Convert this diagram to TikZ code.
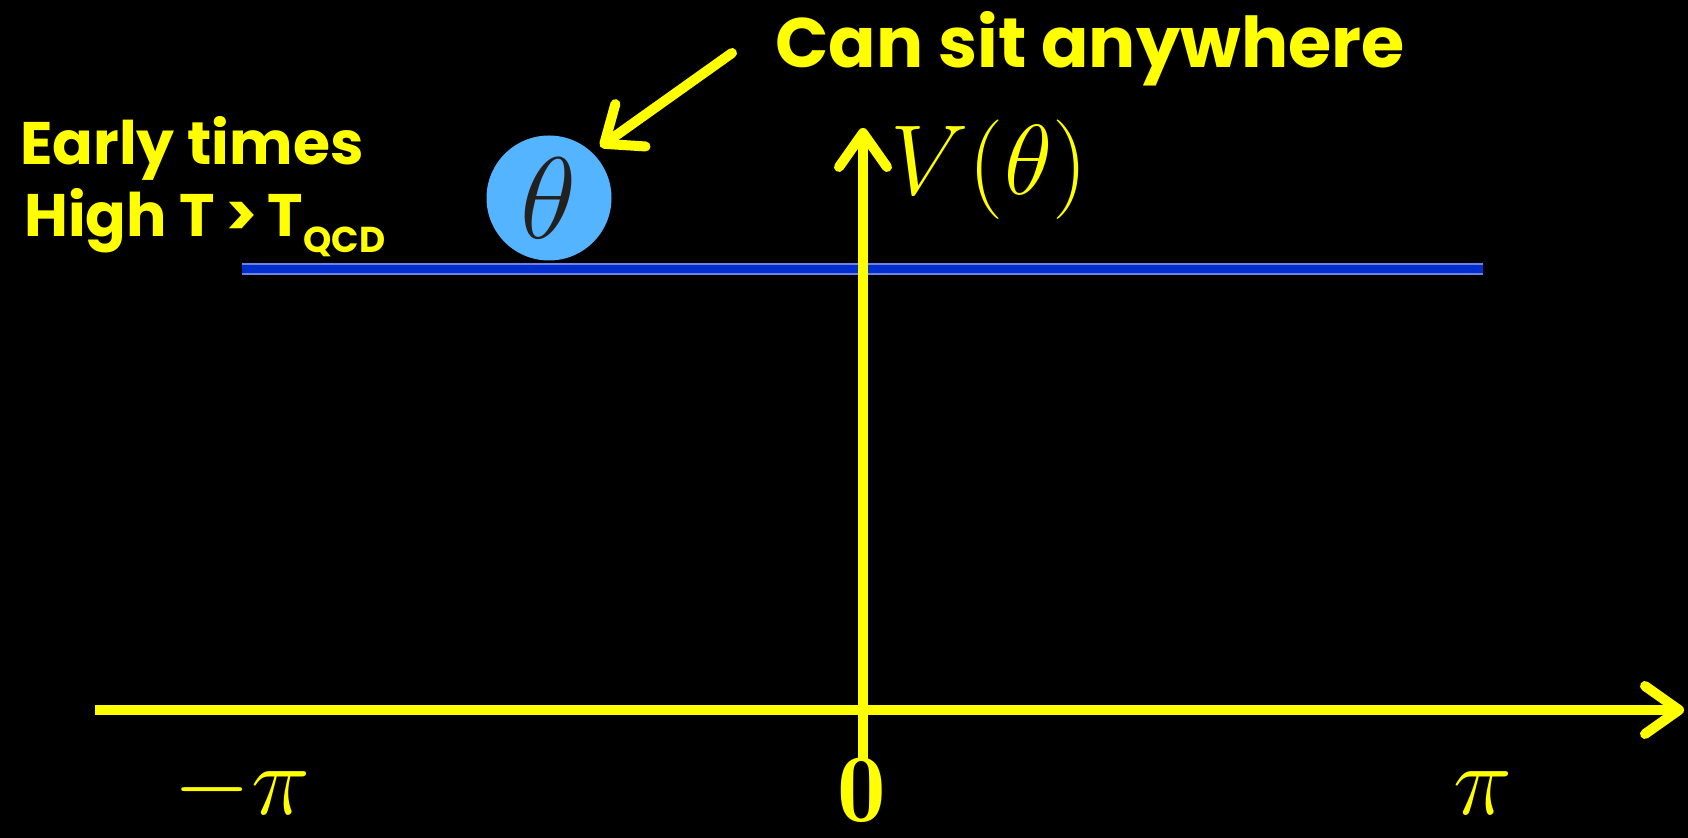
\documentclass[tikz,border=0pt]{standalone}
\usepackage{graphicx}
\usepackage{fontspec}
\newfontfamily\lblfont{Poppins}
\usetikzlibrary{arrows.meta}
\definecolor{yel}{RGB}{255,255,0}
\definecolor{ballblue}{RGB}{85,180,255}
\definecolor{lineblue}{RGB}{0,45,205}
\definecolor{lineedge}{RGB}{110,130,225}
\definecolor{thetagray}{RGB}{35,32,32}
\newcommand{\bigmath}[2]{\scalebox{#1}{\Huge$#2$}}
\tikzset{
  axis/.style={draw=yel, line width=5pt, -{Straight Barb[length=17pt,width=24pt,round]}},
  pointer/.style={draw=yel, line width=5pt, line cap=round, -{Straight Barb[length=16pt,width=26pt,round]}},
  lbl/.style={text=yel, font=\lblfont\bfseries, inner sep=0pt},
  mathlbl/.style={text=yel, inner sep=0pt},
  ballstyle/.style={circle, fill=ballblue, minimum size=62.5pt, inner sep=0pt, outer sep=5pt,
     text=thetagray}
}
\begin{document}
\begin{tikzpicture}[x=0.5pt,y=-0.5pt]
\fill[black] (0,0) rectangle (1688,838);
\useasboundingbox (0,0) rectangle (1688,838);
% blue flat potential
\coordinate (pl) at (242,269);
\coordinate (pr) at (1483,269);
\draw[lineedge, line width=6pt] (pl) -- (pr);
\draw[lineblue, line width=4pt] (pl) -- (pr);
% axes
\coordinate (xl) at (95,710);
\coordinate (xr) at (1684,710);
\coordinate (yb) at (863,760);
\coordinate (yt) at (863,128);
\draw[axis] (yb) -- (yt);
\draw[axis] (xl) -- (xr);
% ball
\node[ballstyle] (ball) at (549,198) {\bigmath{2.33}{\theta}};
% pointer
\coordinate (pstart) at (732,53);
\draw[pointer] (pstart) -- (ball.45);
% labels
\node[lbl, anchor=base, font=\lblfont\bfseries\fontsize{35}{40}\selectfont] (cansit) at (1090,68) {Can sit anywhere};
\node[lbl, anchor=base, font=\lblfont\bfseries\fontsize{30}{34}\selectfont] (early) at (192,165) {Early times};
\node[lbl, anchor=base west, font=\lblfont\bfseries\fontsize{30}{34}\selectfont] (high) at (24,237) {High T\,>\,T\raisebox{-8pt}{\fontsize{18}{20}\selectfont QCD}};
\node[mathlbl, anchor=base west] (vlab) at (890,195) {\bigmath{2}{V(\theta)}};
\node[mathlbl, anchor=base] (zero) at (862,822) {\bigmath{1.95}{\mathbf{0}}};
\node[mathlbl, anchor=base] (mpi) at (242,815) {\bigmath{2}{-\pi}};
\node[mathlbl, anchor=base] (ppi) at (1483,815) {\bigmath{2}{\pi}};
\end{tikzpicture}
\end{document}
